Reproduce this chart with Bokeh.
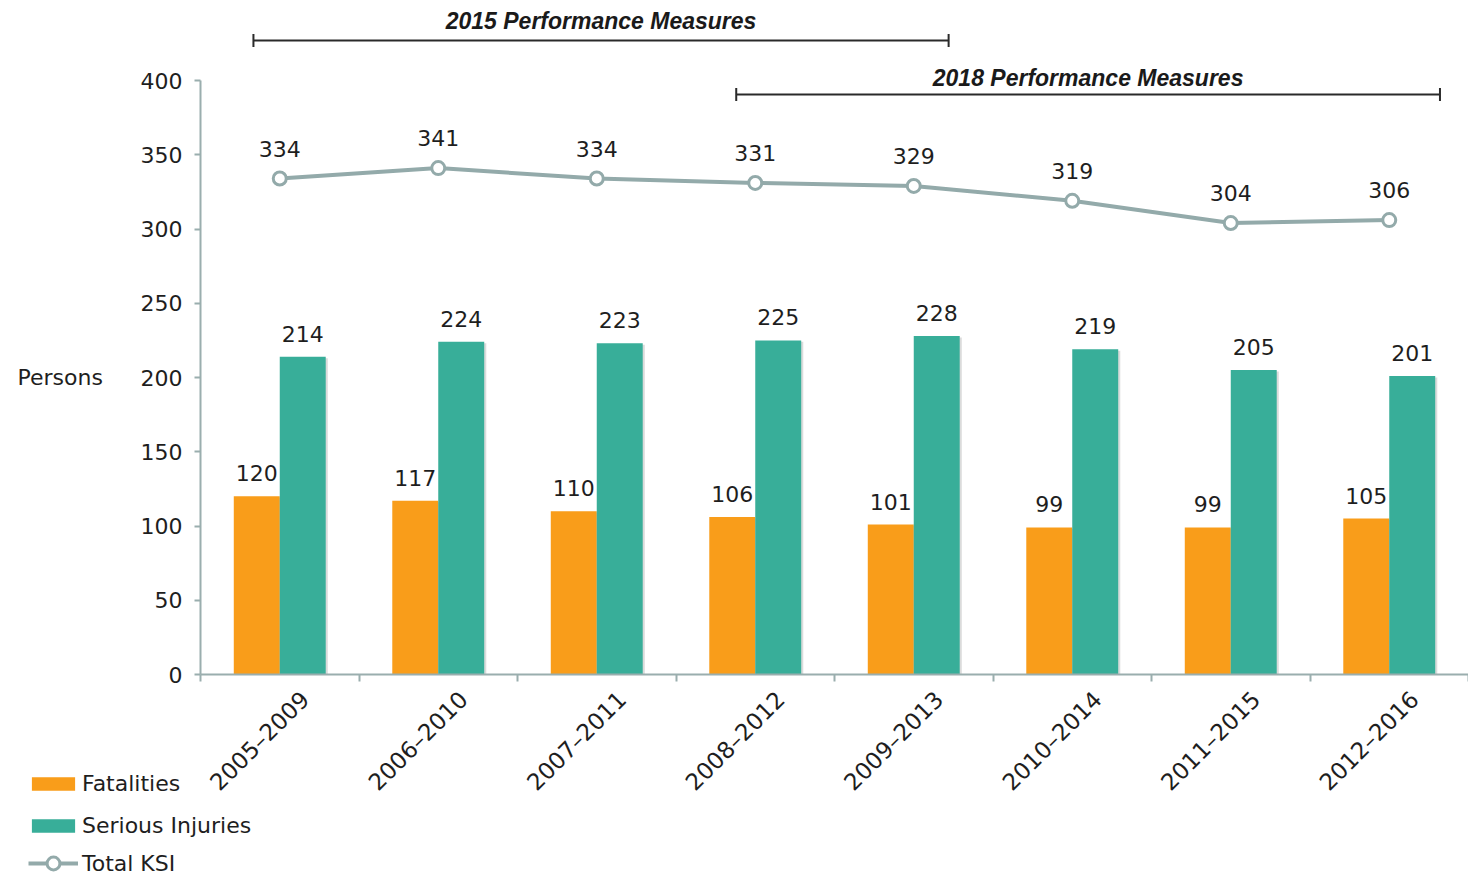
import math
import numpy as np
from bokeh.plotting import figure
from bokeh.models import FixedTicker, Range1d, Legend, LegendItem, Label
from bokeh.embed import file_html
from bokeh.resources import INLINE
from bokeh.core.properties import value

# ---------------- data ----------------
categories = ["2005–2009", "2006–2010", "2007–2011", "2008–2012",
              "2009–2013", "2010–2014", "2011–2015", "2012–2016"]
fatalities = [120, 117, 110, 106, 101, 99, 99, 105]
serious_injuries = [214, 224, 223, 225, 228, 219, 205, 201]
total_ksi = [334, 341, 334, 331, 329, 319, 304, 306]
y_ticks = [0, 50, 100, 150, 200, 250, 300, 350, 400]
period_labels = ["2015 Performance Measures", "2018 Performance Measures"]
period_first = [0, 3]   # index of first category covered
period_last = [4, 7]    # index of last category covered

# ---------------- style ----------------
FONT = "DejaVu Sans"
FS = "22px"
ORANGE = "#F99D1A"
GREEN = "#38AE99"
GREY = "#93AAAA"
AXIS = "#9AAEAE"
TXT = "#1E1E1E"
BAR_W = 0.29
start_off = [0.334, 0.38]
end_off = [0.72, 0.82]
bracket_level = [427, 390.6]
bracket_text_level = [440.4, 402]
label_shift = 0.16

n = len(categories)
centers = np.arange(n) + 0.5
x_fat = centers - BAR_W / 2
x_ser = centers + BAR_W / 2

p = figure(width=1468, height=876,
           x_range=Range1d(-200 / 158.5, n), y_range=Range1d(-202 / 1.485, 674 / 1.485),
           output_backend="svg", toolbar_location=None,
           min_border_left=0, min_border_right=0, min_border_top=0, min_border_bottom=0)
p.outline_line_color = None
p.xgrid.visible = False
p.ygrid.visible = False
p.background_fill_color = "white"

# soft bar shadows
p.vbar(x=x_fat + 0.013, top=[v - 1 for v in fatalities], width=BAR_W,
       fill_color="#999999", fill_alpha=0.35, line_color=None)
p.vbar(x=x_ser + 0.013, top=[v - 1 for v in serious_injuries], width=BAR_W,
       fill_color="#999999", fill_alpha=0.35, line_color=None)

r_fat = p.vbar(x=x_fat, top=fatalities, width=BAR_W, fill_color=ORANGE, line_color=None)
r_ser = p.vbar(x=x_ser, top=serious_injuries, width=BAR_W, fill_color=GREEN, line_color=None)

r_line = p.line(x=centers, y=total_ksi, line_color=GREY, line_width=4)
r_pts = p.scatter(x=centers, y=total_ksi, size=13, marker="circle",
                  fill_color="white", line_color=GREY, line_width=3)

p.text(x=x_fat, y=fatalities, text=[str(v) for v in fatalities],
       text_align="center", text_baseline="bottom", y_offset=-15,
       text_font=value(FONT), text_font_size=FS, text_color=TXT)
p.text(x=x_ser, y=serious_injuries, text=[str(v) for v in serious_injuries],
       text_align="center", text_baseline="bottom", y_offset=-15,
       text_font=value(FONT), text_font_size=FS, text_color=TXT)
p.text(x=centers, y=total_ksi, text=[str(v) for v in total_ksi],
       text_align="center", text_baseline="bottom", y_offset=-22,
       text_font=value(FONT), text_font_size=FS, text_color=TXT)

# performance-measure brackets
bx0 = [f + s for f, s in zip(period_first, start_off)]
bx1 = [l + e for l, e in zip(period_last, end_off)]
p.segment(x0=bx0, y0=bracket_level, x1=bx1, y1=bracket_level, line_color="#2A2A2A", line_width=2)
p.scatter(x=bx0 + bx1, y=bracket_level + bracket_level, marker="dash", angle=math.pi / 2,
          size=13, line_color="#2A2A2A", line_width=2)
p.text(x=[(a + b) / 2 for a, b in zip(bx0, bx1)], y=bracket_text_level, text=period_labels,
       text_align="center", text_baseline="middle", text_font=value("Liberation Sans"),
       text_font_style="bold italic", text_font_size="23px", text_color="#1A1A1A")

# y axis (fixed at x = 0)
ya = p.yaxis[0]
ya.fixed_location = 0
ya.ticker = FixedTicker(ticks=y_ticks, minor_ticks=[])
ya.bounds = (0, 400)
ya.axis_line_color = AXIS
ya.axis_line_width = 2
ya.major_tick_line_color = AXIS
ya.major_tick_line_width = 2
ya.major_tick_out = 6
ya.major_tick_in = 0
ya.major_label_standoff = 12
ya.major_label_text_font = FONT
ya.major_label_text_font_size = FS
ya.major_label_text_color = TXT

# x axis (fixed at y = 0)
xa = p.xaxis[0]
xa.fixed_location = 0
label_ticks = [float(c + label_shift) for c in centers]
xa.ticker = FixedTicker(ticks=label_ticks, minor_ticks=list(range(n + 1)))
xa.bounds = (0, n)
xa.major_label_overrides = {t: cat for t, cat in zip(label_ticks, categories)}
xa.major_label_orientation = math.pi / 4
xa.axis_line_color = AXIS
xa.axis_line_width = 2
xa.major_tick_out = 0
xa.major_tick_in = 0
xa.minor_tick_line_color = AXIS
xa.minor_tick_line_width = 2
xa.minor_tick_out = 7
xa.minor_tick_in = 0
xa.major_label_standoff = 14
xa.major_label_text_font = FONT
xa.major_label_text_font_size = "23px"
xa.major_label_text_color = TXT

p.add_layout(Label(x=17, x_units="screen", y=200, text="Persons",
                   text_align="left", text_baseline="middle",
                   text_font=FONT, text_font_size=FS, text_color=TXT))

legend_common = dict(orientation="vertical", label_height=25, spacing=17,
                     padding=0, margin=0, border_line_color=None, background_fill_alpha=0,
                     label_text_font=FONT, label_text_font_size=FS, label_text_color=TXT)
legend_bars = Legend(items=[LegendItem(label="Fatalities", renderers=[r_fat]),
                            LegendItem(label="Serious Injuries", renderers=[r_ser])],
                     location=(26, 38), glyph_width=54, glyph_height=17, label_standoff=2,
                     **legend_common)
legend_line = Legend(items=[LegendItem(label="Total KSI", renderers=[r_line, r_pts])],
                     location=(28, -3), glyph_width=50, glyph_height=32, label_standoff=4,
                     **legend_common)
p.add_layout(legend_bars)
p.add_layout(legend_line)

open("out.html", "w").write(file_html(p, INLINE))
